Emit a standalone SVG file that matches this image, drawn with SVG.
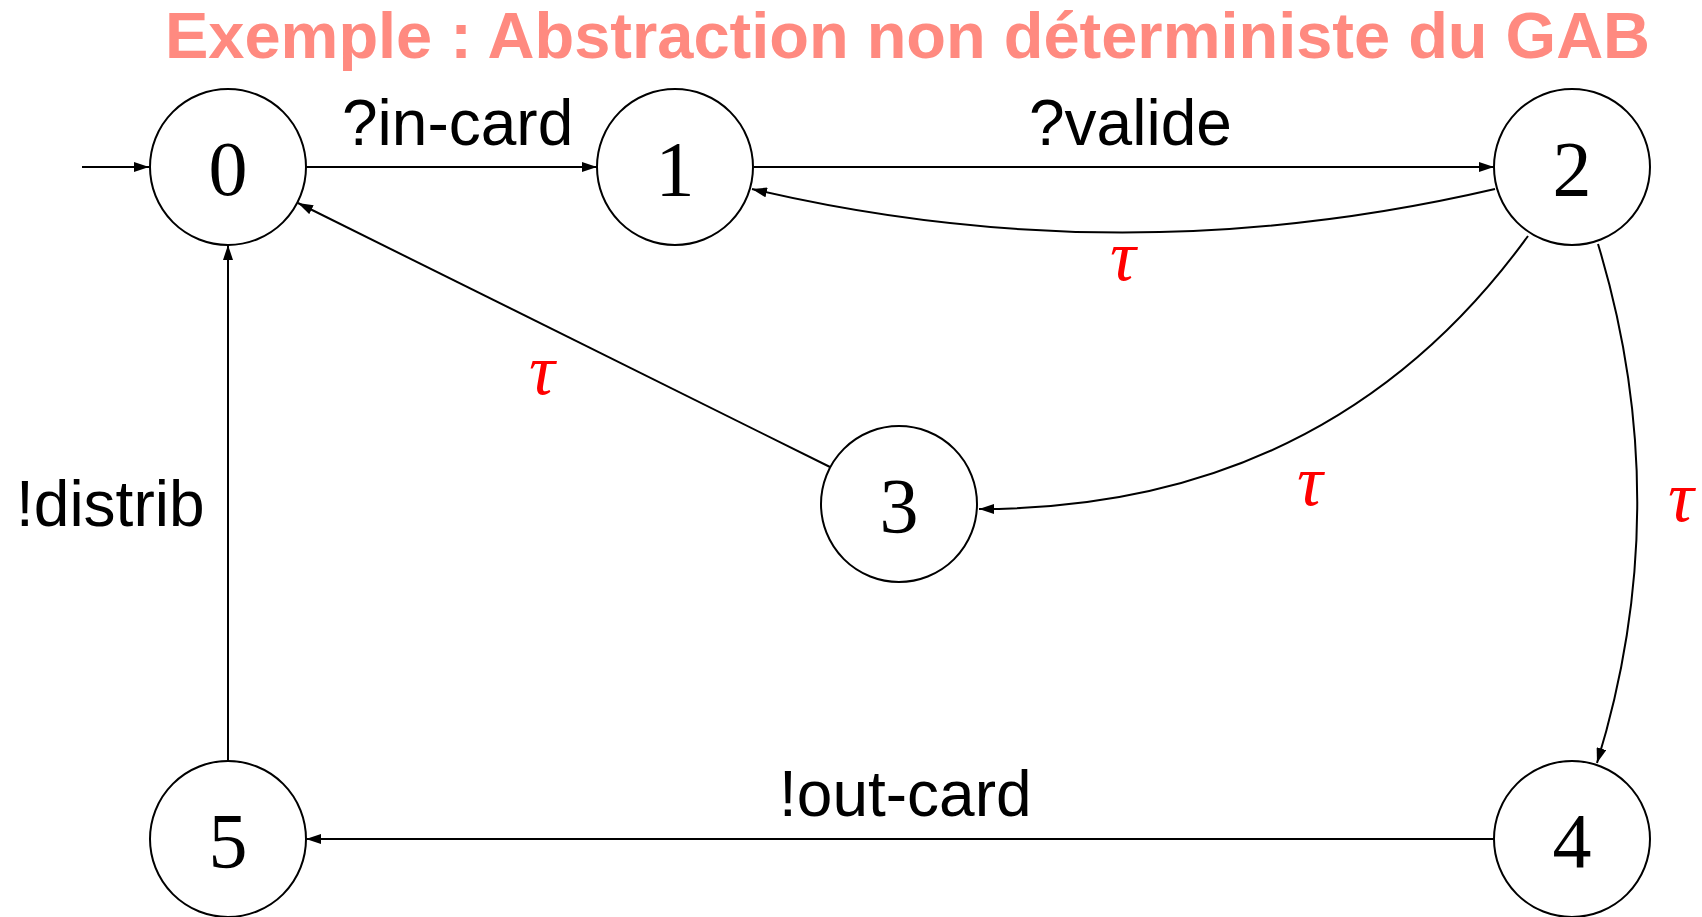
<svg xmlns="http://www.w3.org/2000/svg" width="1702" height="917" viewBox="0 0 1702 917">
<style>
.node circle{fill:#fff;stroke:#000;stroke-width:2}
.num{font-family:"Liberation Serif","DejaVu Serif",serif;font-size:78px;text-anchor:middle;fill:#000}
.lbl{font-family:"Liberation Sans",Arial,sans-serif;font-size:64px;fill:#000}
.tau{font-family:"Liberation Serif","DejaVu Serif",serif;font-style:italic;font-size:72px;text-anchor:middle;fill:#ff0000}
.edge{fill:none;stroke:#000;stroke-width:2;marker-end:url(#arr)}
.title{font-family:"Liberation Sans",Arial,sans-serif;font-weight:bold;font-size:65px;fill:#ff8a80}
</style>
<defs>
<marker id="arr" markerUnits="userSpaceOnUse" markerWidth="16" markerHeight="10" refX="15" refY="5" orient="auto">
<path d="M0,0 L15,5 L0,10 z" fill="#000"/>
</marker>
</defs>
<rect width="1702" height="917" fill="#fff"/>
<text class="title" x="165" y="58" textLength="1485" lengthAdjust="spacingAndGlyphs">Exemple : Abstraction non déterministe du GAB</text>
<g id="connectors">
<path class="edge" d="M82,167 L149,167"/>
<path class="edge" d="M306,167 L597,167"/>
<path class="edge" d="M754,167 L1494,167"/>
<path class="edge" d="M1495,189 Q1121,276 752,189"/>
<path class="edge" d="M830,467 L298,203"/>
<path class="edge" d="M1528,236 Q1330,509 979,509"/>
<path class="edge" d="M1598,244 Q1677,504 1597,763"/>
<path class="edge" d="M1494,839 L306,839"/>
<path class="edge" d="M228,761 L228,245"/>
</g>
<g id="labels">
<text class="lbl" x="342" y="145">?in-card</text>
<text class="lbl" x="1029" y="145">?valide</text>
<text class="lbl" x="16" y="526">!distrib</text>
<text class="lbl" x="779" y="816">!out-card</text>
<text class="tau" x="1123" y="280">τ</text>
<text class="tau" x="542" y="394">τ</text>
<text class="tau" x="1310" y="505">τ</text>
<text class="tau" x="1681" y="521">τ</text>
</g>
<g id="node0" class="node"><circle cx="228" cy="167" r="78"/><text class="num" x="228" y="195">0</text></g>
<g id="node1" class="node"><circle cx="675" cy="167" r="78"/><text class="num" x="675" y="195">1</text></g>
<g id="node2" class="node"><circle cx="1572" cy="167" r="78"/><text class="num" x="1572" y="195">2</text></g>
<g id="node3" class="node"><circle cx="899" cy="504" r="78"/><text class="num" x="899" y="532">3</text></g>
<g id="node4" class="node"><circle cx="1572" cy="839" r="78"/><text class="num" x="1572" y="867">4</text></g>
<g id="node5" class="node"><circle cx="228" cy="839" r="78"/><text class="num" x="228" y="867">5</text></g>
</svg>
